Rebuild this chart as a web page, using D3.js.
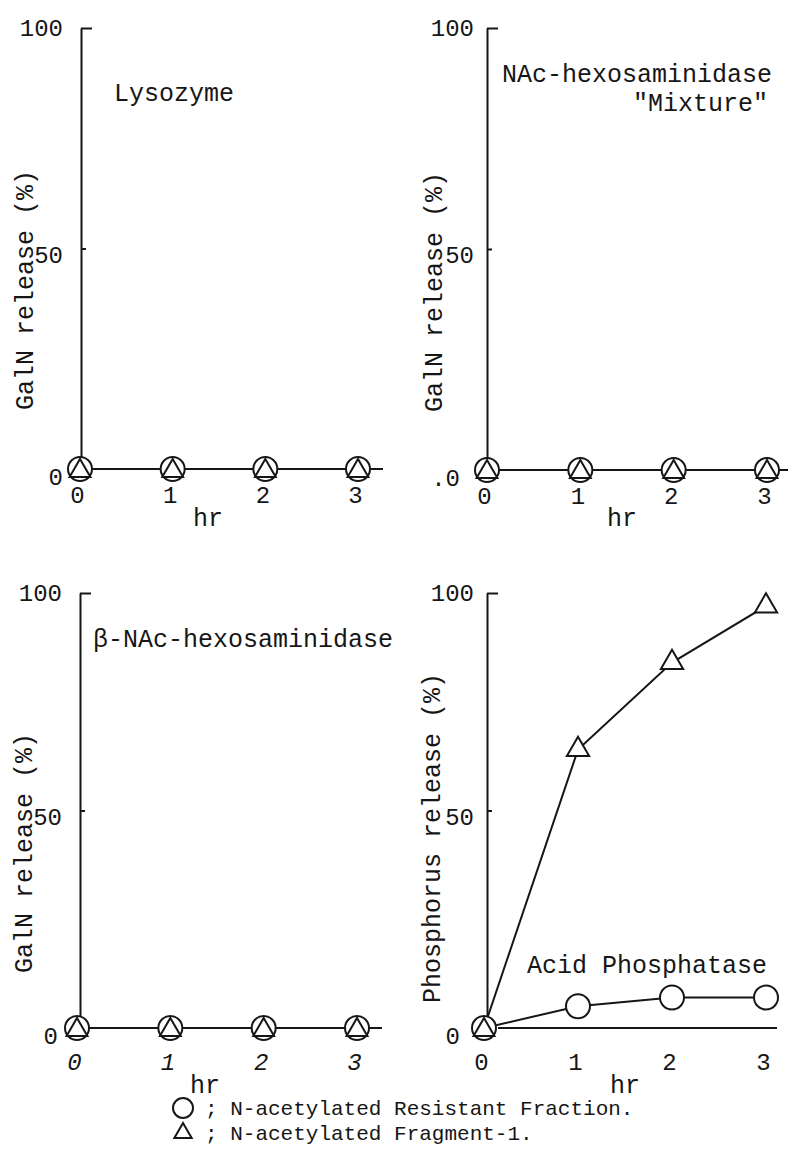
<!DOCTYPE html>
<html>
<head>
<meta charset="utf-8">
<script src="https://cdn.jsdelivr.net/npm/d3@7"></script>
<style>
body { margin: 0; background: #fff; }
svg text { font-family: "Liberation Mono", "Courier New", monospace; fill: #161616; }
</style>
</head>
<body>
<svg id="chart" width="795" height="1162"></svg>
<script>
// values (% release vs hours)
const hours = [0, 1, 2, 3];
const yTicks = [0, 50, 100];
const lysozymeResistant = [0, 0, 0, 0];
const lysozymeFragment = [0, 0, 0, 0];
const mixtureResistant = [0, 0, 0, 0];
const mixtureFragment = [0, 0, 0, 0];
const betaResistant = [0, 0, 0, 0];
const betaFragment = [0, 0, 0, 0];
const phosphataseResistant = [0, 5, 7, 7];
const phosphataseFragment = [0, 64, 84, 97];

const panelTitles = [
	["Lysozyme"],
	["NAc-hexosaminidase", "\"Mixture\""],
	["β-NAc-hexosaminidase"],
	["Acid Phosphatase"]
];
const yTitles = ["GalN release (%)", "GalN release (%)", "GalN release (%)", "Phosphorus release (%)"];
const zeroLabels = ["0", ".0", "0", "0"];
const xTitle = "hr";
const legendLabels = ["; N-acetylated Resistant Fraction.", "; N-acetylated Fragment-1."];

const ink = "#161616";
const fontSize = 25;
const tickFont = 24;

// layout of each panel on the page
const panels = [
	{resistant: lysozymeResistant, fragment: lysozymeFragment,
		left: 80, right: 358, top: 28, bottom: 469, axisX: 81, lineStart: 81, lineEnd: 383,
		titlePos: [[114, 101]], yTitlePos: [33, 290], tickPad: 17, labelPad: 18, zeroPad: 18, hrPos: [208, 526], italic: false},
	{resistant: mixtureResistant, fragment: mixtureFragment,
		left: 487, right: 767, top: 28, bottom: 470, axisX: 487, lineStart: 487, lineEnd: 788,
		titlePos: [[502, 82], [633, 111]], yTitlePos: [442, 292], tickPad: 17, labelPad: 13, zeroPad: 27, hrPos: [622, 526], italic: false},
	{resistant: betaResistant, fragment: betaFragment,
		left: 77, right: 357, top: 593, bottom: 1028, axisX: 80, lineStart: 80, lineEnd: 382,
		titlePos: [[93, 647]], yTitlePos: [32, 853], tickPad: 25, labelPad: 18, zeroPad: 22, hrPos: [205, 1093], italic: true},
	{resistant: phosphataseResistant, fragment: phosphataseFragment,
		left: 484, right: 766, top: 593, bottom: 1028, axisX: 487, lineStart: 498, lineEnd: 777,
		titlePos: [[527, 973]], yTitlePos: [440, 838], tickPad: 25, labelPad: 13, zeroPad: 27, hrPos: [625, 1093], italic: false}
];

const svg = d3.select("#chart");

const circleSymbol = d3.symbol().type(d3.symbolCircle).size(Math.PI * 12 * 12);
const innerTriangle = d3.symbol().type(d3.symbolTriangle).size(188);
const openTriangle = d3.symbol().type(d3.symbolTriangle).size(215);

panels.forEach((p, k) => {
	const g = svg.append("g");

	const x = d3.scaleLinear().domain([0, 3]).range([p.left, p.right]);
	const y = d3.scaleLinear().domain([0, 100]).range([p.bottom, p.top]);

	// y axis, small ticks pointing inwards
	const yAxis = g.append("g")
	.attr("transform", `translate(${p.axisX},0)`)
	.call(d3.axisLeft(y)
		.tickValues(yTicks)
		.tickSizeInner(-5)
		.tickSizeOuter(0)
		.tickPadding(p.labelPad)
		.tickFormat((d) => (d === 0 ? zeroLabels[k] : d)));

	yAxis.select(".domain").attr("stroke", ink).attr("stroke-width", 2);
	yAxis.selectAll(".tick line").attr("stroke", ink).attr("stroke-width", 2)
	.attr("x2", (d) => (d === 100 ? 11 : 5));
	yAxis.selectAll(".tick text")
	.attr("font-family", null)
	.attr("font-size", tickFont)
	.attr("fill", ink)
	.attr("x", (d) => (d === 0 ? -p.zeroPad : -p.labelPad))
	.attr("dy", (d) => (d === 0 ? "0.64em" : d === 50 ? "0.58em" : "0.3em"));

	// x axis: only the labels, the base line is drawn below
	const xAxis = g.append("g")
	.attr("transform", `translate(0,${p.bottom})`)
	.call(d3.axisBottom(x)
		.tickValues(hours)
		.tickSize(0)
		.tickPadding(p.tickPad)
		.tickFormat(d3.format("d")));

	xAxis.select(".domain").remove();
	xAxis.selectAll(".tick text")
	.attr("font-family", null)
	.attr("font-size", tickFont)
	.attr("fill", ink)
	.attr("font-style", p.italic ? "italic" : null)
	.attr("dx", -3);

	g.append("line")
	.attr("x1", p.lineStart)
	.attr("x2", p.lineEnd)
	.attr("y1", y(0))
	.attr("y2", y(0))
	.attr("stroke", ink)
	.attr("stroke-width", 2);

	// axis titles
	g.append("text")
	.attr("transform", `translate(${p.yTitlePos[0]},${p.yTitlePos[1]}) rotate(-90)`)
	.attr("text-anchor", "middle")
	.attr("font-size", fontSize)
	.text(yTitles[k]);

	g.append("text")
	.attr("x", p.hrPos[0])
	.attr("y", p.hrPos[1])
	.attr("text-anchor", "middle")
	.attr("font-size", fontSize)
	.text(xTitle);

	panelTitles[k].forEach((t, i) => {
		g.append("text")
		.attr("x", p.titlePos[i][0])
		.attr("y", p.titlePos[i][1])
		.attr("font-size", fontSize)
		.text(t);
	});

	// series
	const line = d3.line()
	.x((d, i) => x(hours[i]))
	.y((d) => y(d));

	[p.resistant, p.fragment].forEach((s) => {
		g.append("path")
		.attr("d", line(s))
		.attr("fill", "none")
		.attr("stroke", ink)
		.attr("stroke-width", 2);
	});

	g.selectAll(".res")
	.data(p.resistant)
	.enter()
	.append("path")
	.attr("class", "res")
	.attr("transform", (d, i) => `translate(${x(hours[i])},${y(d)})`)
	.attr("d", circleSymbol())
	.attr("fill", "#fff")
	.attr("stroke", ink)
	.attr("stroke-width", 2);

	g.selectAll(".frag")
	.data(p.fragment)
	.enter()
	.append("path")
	.attr("class", "frag")
	.attr("transform", (d, i) => `translate(${x(hours[i])},${y(d) + (d === p.resistant[i] ? 2 : 0)})`)
	.attr("d", (d, i) => (d === p.resistant[i] ? innerTriangle() : openTriangle()))
	.attr("fill", "#fff")
	.attr("stroke", ink)
	.attr("stroke-width", 2);
});

// legend
const legend = svg.append("g");
const legendSymbols = [d3.symbol().type(d3.symbolCircle).size(Math.PI * 10 * 10), d3.symbol().type(d3.symbolTriangle).size(130)];

legendLabels.forEach((label, i) => {
	const ly = 1108 + i * 25;

	legend.append("path")
	.attr("transform", `translate(183,${ly})`)
	.attr("d", legendSymbols[i]())
	.attr("fill", "none")
	.attr("stroke", ink)
	.attr("stroke-width", 2);

	legend.append("text")
	.attr("x", 205)
	.attr("y", ly + 7)
	.attr("font-size", 21)
	.text(label);
});
</script>
</body>
</html>
